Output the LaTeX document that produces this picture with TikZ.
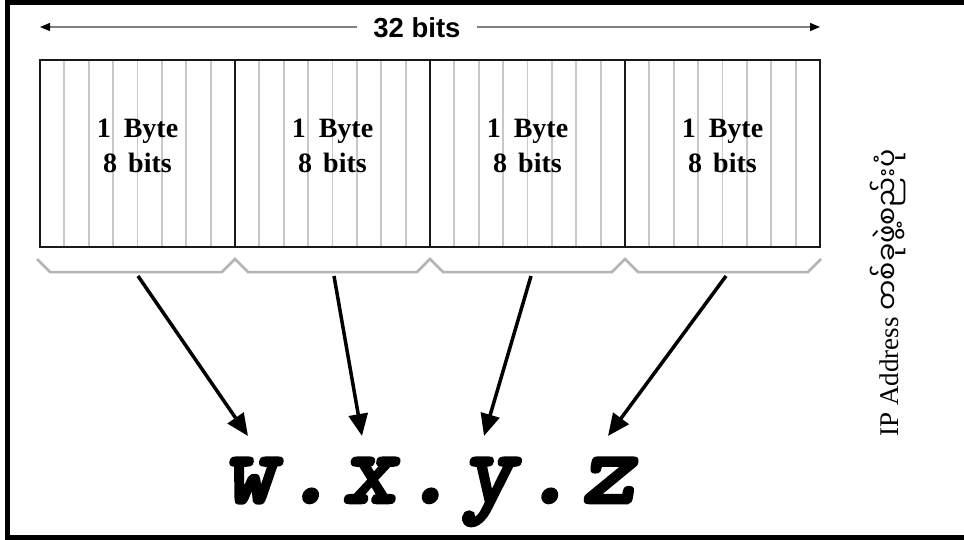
\documentclass[tikz,border=0pt]{standalone}
\usepackage{fontspec}
\usetikzlibrary{arrows.meta}
\newfontfamily\labelfont{Liberation Serif}
\newfontfamily\headfont{Liberation Sans}
\newfontfamily\myanmarfont[Script=Myanmar]{Noto Sans Myanmar UI}
\newfontfamily\addrfont{lmmonolt10-boldoblique.otf}[FakeBold=2.5,LetterSpace=5]
\begin{document}
\begin{tikzpicture}[x=1pt,y=-1pt,
  frameline/.style={line width=5pt,black},
  bitline/.style={line width=1.8pt,color={rgb,255:red,200;green,200;blue,200}},
  cell/.style={draw=black!90,line width=2pt,minimum width=195pt,minimum height=187pt,inner sep=0pt},
  bytelabel/.style={align=center,inner sep=0pt,font=\fontsize{28}{35}\labelfont\bfseries},
  widthline/.style={line width=1.2pt,color=black!50,
    {Triangle[length=10pt,width=8pt,color=black]}-{Triangle[length=10pt,width=8pt,color=black]}},
  braceline/.style={line width=2.5pt,color={rgb,255:red,180;green,180;blue,180},line join=miter},
  maparrow/.style={line width=3.5pt,black,-{Triangle[length=22pt,width=19pt]}}]
\useasboundingbox (0,0) rectangle (964,540);

% outer frame, open on the right
\draw[frameline] (964,2.5) -- (7.5,2.5) -- (7.5,537.5) -- (964,537.5);

% single bit divisions
\foreach \i in {0,...,3}
  \foreach \k in {1,...,7}
    \draw[bitline] ({40+195*\i+24.375*\k},60) -- ++(0,187);

% the four octets
\foreach \i/\n in {0/b1,1/b2,2/b3,3/b4}
  \node[cell] (\n) at ({137.5+195*\i},153.5) {};

\foreach \i/\n in {0/l1,1/l2,2/l3,3/l4}
  \node[bytelabel] (\n) at ({137.5+195*\i},146) {1\hspace{6pt} Byte\\8\hspace{4pt} bits};

% total width marker
\coordinate (wl) at (40,27);
\coordinate (wr) at (820,27);
\draw[widthline] (wl) -- (wr);
\node[fill=white,inner xsep=16pt,inner ysep=2pt,anchor=base,font=\fontsize{27.5}{27.5}\headfont\bfseries] (w32) at (417,38) {32 bits};

% grouping braces under the octets
\draw[braceline] (37,259) -- (50,272) -- (222,272) -- (235,259) -- (248,272)
  -- (417,272) -- (430,259) -- (443,272) -- (612,272) -- (625,259)
  -- (638,272) -- (808,272) -- (821,259);

% dotted-decimal notation
\node[anchor=base,inner sep=0pt] (addr) at (429,503) {\fontsize{104}{104}\addrfont w.x.y.z};

% octet to field arrows
\coordinate (s1) at (138,276);
\coordinate (s2) at (334,276);
\coordinate (s3) at (531,276);
\coordinate (s4) at (726,276);
\coordinate (t1) at (248,436);
\coordinate (t2) at (362,436);
\coordinate (t3) at (484,436);
\coordinate (t4) at (608,436);
\foreach \n in {1,...,4}
  \draw[maparrow] (s\n) -- (t\n);

% side caption
\node[rotate=90,anchor=base,inner sep=0pt] (cap) at (898,293)
  {\fontsize{27}{30}\labelfont IP Address \myanmarfont တစ်ခုဖွဲ့စည်းပုံ};
\end{tikzpicture}
\end{document}
